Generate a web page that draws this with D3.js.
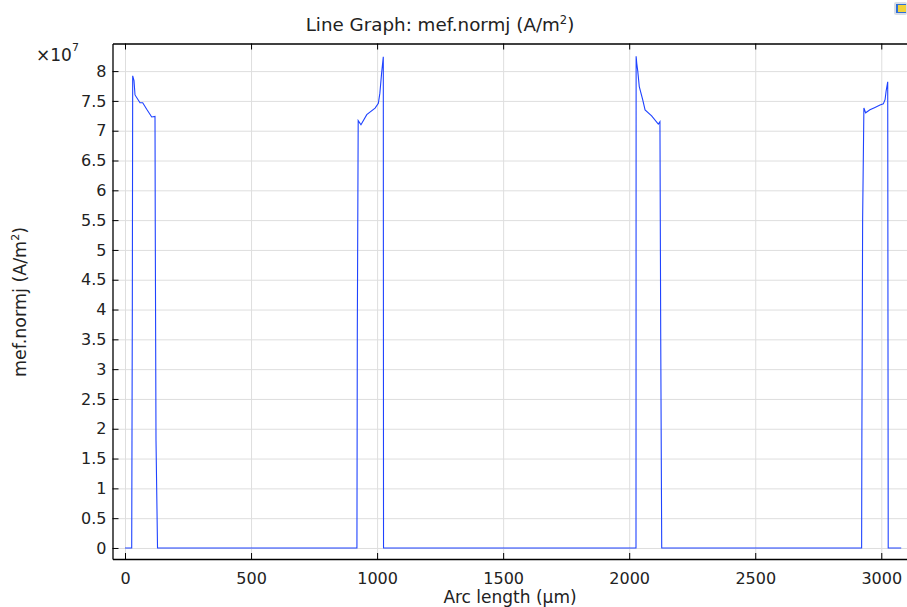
<!DOCTYPE html>
<html>
<head>
<meta charset="utf-8">
<script src="https://cdn.jsdelivr.net/npm/d3@7"></script>
<style>
  body { margin: 0; background: #fff; }
  text { font-family: "DejaVu Sans", sans-serif; fill: #222; }
</style>
</head>
<body>
<svg width="907" height="607"></svg>
<script>

// arc length (um) and current density norm (x 1e7 A/m^2)
var arcLength = [0, 26.6, 29, 30.5, 35.7, 39.7, 59.5, 70.2, 86.1, 105.9, 119, 120, 123, 129,
  920, 921.5, 925, 936, 959, 992, 1005, 1011, 1018, 1024.6, 1025.5,
  2027, 2027.5, 2030, 2034, 2040, 2053.5, 2063, 2089, 2115.5, 2122, 2125, 2129,
  2922, 2923, 2926, 2931, 2938, 2955, 2975, 2995, 3008, 3015, 3019, 3025.5, 3026.5, 3027.5, 3079]
var normJ = [0, 0, 3.95, 7.92, 7.84, 7.6, 7.47, 7.47, 7.36, 7.23, 7.24, 5.43, 1.8, 0,
  0, 3.57, 7.17, 7.1, 7.27, 7.38, 7.46, 7.63, 7.97, 8.24, 0,
  0, 8.25, 8.13, 8.0, 7.74, 7.52, 7.35, 7.25, 7.11, 7.15, 3.6, 0,
  0, 1.84, 5.52, 7.38, 7.30, 7.35, 7.39, 7.43, 7.45, 7.52, 7.66, 7.82, 3.9, 0, 0]

var xTicks = [0, 500, 1000, 1500, 2000, 2500, 3000]
var yTicks = d3.range(0, 8.01, 0.5)
var yExponent = 7

var title = "Line Graph: mef.normj (A/m"
var xTitle = "Arc length (µm)"
var yTitle = "mef.normj (A/m"

function draw_plot() {

  var svg = d3.select("svg")

  var pLeft = 112.5, pRight = 907, pTop = 43.5, pBottom = 559

  var x = d3.scaleLinear().domain([-49.6, 3102]).range([pLeft, pRight])
  var y = d3.scaleLinear().domain([-0.185, 8.463]).range([pBottom, pTop])

  var data = arcLength.map(function(d, i){ return {x: d, y: normJ[i]} })

  // grid
  svg.append("g")
    .attr("transform", "translate(0," + pBottom + ")")
    .call(d3.axisBottom(x).tickValues(xTicks).tickSize(-(pBottom - pTop)).tickFormat(""))
    .call(function(g){ g.select(".domain").remove() })
    .selectAll("line").style("stroke", "#dedede")

  svg.append("g")
    .attr("transform", "translate(" + pLeft + ",0)")
    .call(d3.axisLeft(y).tickValues(yTicks).tickSize(-(pRight - pLeft)).tickFormat(""))
    .call(function(g){ g.select(".domain").remove() })
    .selectAll("line").style("stroke", "#dedede")

  // curve
  svg.append("path")
    .datum(data)
    .attr("fill", "none")
    .attr("stroke", "#1f43ff")
    .attr("stroke-width", 1.1)
    .attr("d", d3.line().x(function(d){ return x(d.x) }).y(function(d){ return y(d.y) }))

  // axes with inward ticks
  var xAxis = svg.append("g")
    .attr("transform", "translate(0," + pBottom + ")")
    .call(d3.axisBottom(x).tickValues(xTicks).tickSizeInner(-6).tickSizeOuter(0).tickPadding(14)
      .tickFormat(d3.format("d")))
  var xTop = svg.append("g")
    .attr("transform", "translate(0," + pTop + ")")
    .call(d3.axisTop(x).tickValues(xTicks).tickSizeInner(-6).tickSizeOuter(0).tickFormat(""))
  var yAxis = svg.append("g")
    .attr("transform", "translate(" + pLeft + ",0)")
    .call(d3.axisLeft(y).tickValues(yTicks).tickSizeInner(-6).tickSizeOuter(0).tickPadding(6)
      .tickFormat(d3.format("~g")))

  ;[xAxis, xTop, yAxis].forEach(function(g){
    g.select(".domain").style("stroke", "#000").style("stroke-width", 1.3)
    g.selectAll(".tick line").style("stroke", "#000")
    g.selectAll("text").style("font-size", "16px").style("fill", "#222")
      .style("font-family", "DejaVu Sans, sans-serif")
  })

  // exponent label
  var ex = svg.append("text").attr("x", 36).attr("y", 61).style("font-size", "17px")
  ex.append("tspan").text("×10")
  ex.append("tspan").attr("dy", -10).style("font-size", "11px").text(yExponent)

  // titles
  var t = svg.append("text").attr("x", 440).attr("y", 31).attr("text-anchor", "middle").style("font-size", "18.3px")
  t.append("tspan").text(title)
  t.append("tspan").attr("dy", -7).style("font-size", "11.5px").text("2")
  t.append("tspan").attr("dy", 7).text(")")

  svg.append("text").attr("x", 510).attr("y", 603).attr("text-anchor", "middle")
    .style("font-size", "17px").text(xTitle)

  var yl = svg.append("text").attr("transform", "translate(26,302) rotate(-90)")
    .attr("text-anchor", "middle").style("font-size", "17.5px")
  yl.append("tspan").text(yTitle)
  yl.append("tspan").attr("dy", -7).style("font-size", "11px").text("2")
  yl.append("tspan").attr("dy", 7).text(")")

  // small toolbar icon in the corner
  var icon = svg.append("g").attr("transform", "translate(894,2)")
  icon.append("rect").attr("width", 13).attr("height", 13).attr("rx", 2).attr("fill", "#d8dde6")
  icon.append("rect").attr("x", 2).attr("y", 2).attr("width", 10).attr("height", 9).attr("fill", "#2f6fd6")
  icon.append("rect").attr("x", 4).attr("y", 3).attr("width", 8).attr("height", 7).attr("fill", "#f2d23a")
}

draw_plot()

</script>
</body>
</html>
